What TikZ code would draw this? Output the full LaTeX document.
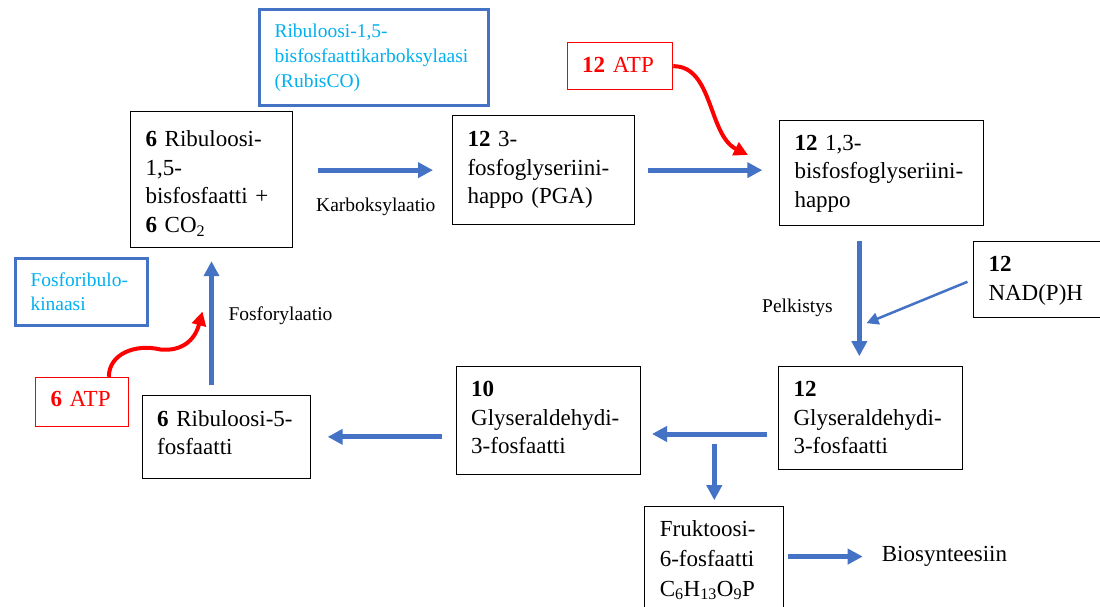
\documentclass[tikz,border=0pt]{standalone}
\usepackage{fontspec}
\setmainfont{Liberation Serif}
\usepackage{tikz}
\usetikzlibrary{positioning}
\usetikzlibrary{arrows.meta}

\definecolor{flowblue}{HTML}{4472C4}
\definecolor{enzcyan}{HTML}{00B0F0}
\hyphenpenalty=10000
\exhyphenpenalty=10000

\begin{document}
\begin{tikzpicture}[x=1bp, y=-1bp,
    box/.style={draw, line width=1bp, align=left, anchor=base west, inner xsep=15bp, inner ysep=0pt,
      font=\fontsize{23bp}{28.5bp}\selectfont},
    enz/.style={box, draw=flowblue, line width=3bp, text=enzcyan,
      font=\fontsize{19.5bp}{25bp}\selectfont},
    atp/.style={box, draw=red, text=red},
    lbl/.style={anchor=base west, inner sep=0pt, font=\fontsize{19.5bp}{24bp}\selectfont},
    flow/.style={color=flowblue, line width=5bp, -{Triangle[length=15bp,width=15bp]}},
    thin flow/.style={color=flowblue, line width=2.5bp, -{Triangle[length=12bp,width=12bp]}},
    wave/.style={color=red, line width=4bp, -{Triangle[length=14bp,width=14bp]}}]
\path[use as bounding box, fill=white] (0,0) rectangle (1100,607);

\node[enz, text width=199bp, text height=27.3bp, text depth=68.7bp] (rubisco) at (258,37.3)
  {Ribuloosi-1,5-\\bisfosfaattikarboksylaasi\\(RubisCO)};
\node[enz, text width=101.7bp, text height=28.4bp, text depth=38.3bp,
  font=\fontsize{19.5bp}{24bp}\selectfont] (prk) at (14,286.7)
  {Fosforibulo-\\kinaasi};
\node[box, text width=132bp, text height=35bp, text depth=100bp] (rubp) at (130,147)
  {\textbf{6} Ribuloosi-\\1,5-\\bisfosfaatti +\\\textbf{6} CO\textsubscript{2}};
\node[box, text width=152bp, text height=30.7bp, text depth=77.6bp] (pga) at (452,146.7)
  {\textbf{12} 3-\\fosfoglyseriini-\\happo (PGA)};
\node[box, text width=173.7bp, text height=29.8bp, text depth=74.8bp] (bpga) at (779,150.5)
  {\textbf{12} 1,3-\\bisfosfoglyseriini-\\happo};
\node[box, text width=105bp, text height=30bp, text depth=45.6bp] (nadph) at (973,271.7)
  {\textbf{12}\\NAD(P)H};
\node[box, text width=154bp, text height=30bp, text depth=72.6bp] (gla12) at (778,396.7)
  {\textbf{12}\\Glyseraldehydi-\\3-fosfaatti};
\node[box, text width=154bp, text height=30bp, text depth=77.6bp] (gla10) at (455.7,396.7)
  {\textbf{10}\\Glyseraldehydi-\\3-fosfaatti};
\node[box, text width=138.6bp, text height=30.3bp, text depth=52bp] (rib5) at (141.7,426)
  {\textbf{6} Ribuloosi-5-\\fosfaatti};
\node[box, text width=109bp, text height=30.4bp, text depth=78bp,
  font=\fontsize{23bp}{29.7bp}\selectfont] (fru) at (644.3,536.7)
  {Fruktoosi-\\6-fosfaatti\\C\textsubscript{6}H\textsubscript{13}O\textsubscript{9}P};
\node[atp, text width=75.6bp, text height=30.4bp, text depth=17.3bp] (atp12) at (566.7,72.7)
  {\textbf{12} ATP};
\node[atp, text width=62.7bp, text height=29.4bp, text depth=19.3bp] (atp6) at (35,406.7)
  {\textbf{6} ATP};

\node[lbl] (karb) at (316,212) {Karboksylaatio};
\node[lbl] (pelk) at (762,312.3) {Pelkistys};
\node[lbl] (fosf) at (228.3,320.7) {Fosforylaatio};
\node[lbl, font=\fontsize{23bp}{28bp}\selectfont] (bio) at (881.7,561.7) {Biosynteesiin};

\coordinate (pelk-top) at ([xshift=-22bp]bpga.south);
\coordinate (gla-out) at ([yshift=-16bp]gla12.west);
\coordinate (nad-in) at ([xshift=-4bp,yshift=43bp]gla12.north);
\coordinate (bpga-in) at ([xshift=-31bp,yshift=18bp]bpga.west);
\coordinate (rubp-in) at ([xshift=-9bp,yshift=-64bp]rubp.south);
\coordinate (atp6-out) at ([xshift=27bp]atp6.north);
\coordinate (wave-mid) at ([xshift=78.6bp,yshift=27.3bp]atp6.north);

\path[flow]
  (rubp.east |- pga.west) edge[shorten <=25bp, shorten >=19bp] (pga.west)
  (pga.east) edge[shorten <=12.7bp, shorten >=16.7bp] (pga.east -| bpga.west)
  (pelk-top) edge[shorten <=15.4bp, shorten >=10bp] (pelk-top |- gla12.north)
  (gla-out) edge[shorten <=11.3bp, shorten >=11.3bp] (gla-out -| gla10.east)
  (fru.north |- gla-out) edge[shorten <=10bp, shorten >=5.6bp] (fru.north)
  (gla10.west |- rib5.east) edge[shorten <=13.4bp, shorten >=16.4bp] (rib5.east)
  (rib5.north -| rubp.south) edge[shorten <=10.7bp, shorten >=13.7bp] (rubp.south)
  (fru.east |- bio.west) edge[shorten <=3.4bp, shorten >=19bp] (bio.west);
\draw[thin flow, shorten <=6bp] (nadph.west) -- (nad-in);
\draw[wave] (atp12.east) .. controls +(40,0) and +(-40,-20) .. (bpga-in);
\draw[wave] (atp6-out) .. controls +(0,-23) and +(-25,-6) .. (wave-mid)
  .. controls +(20,2) and +(-8,30) .. (rubp-in);
\end{tikzpicture}
\end{document}
